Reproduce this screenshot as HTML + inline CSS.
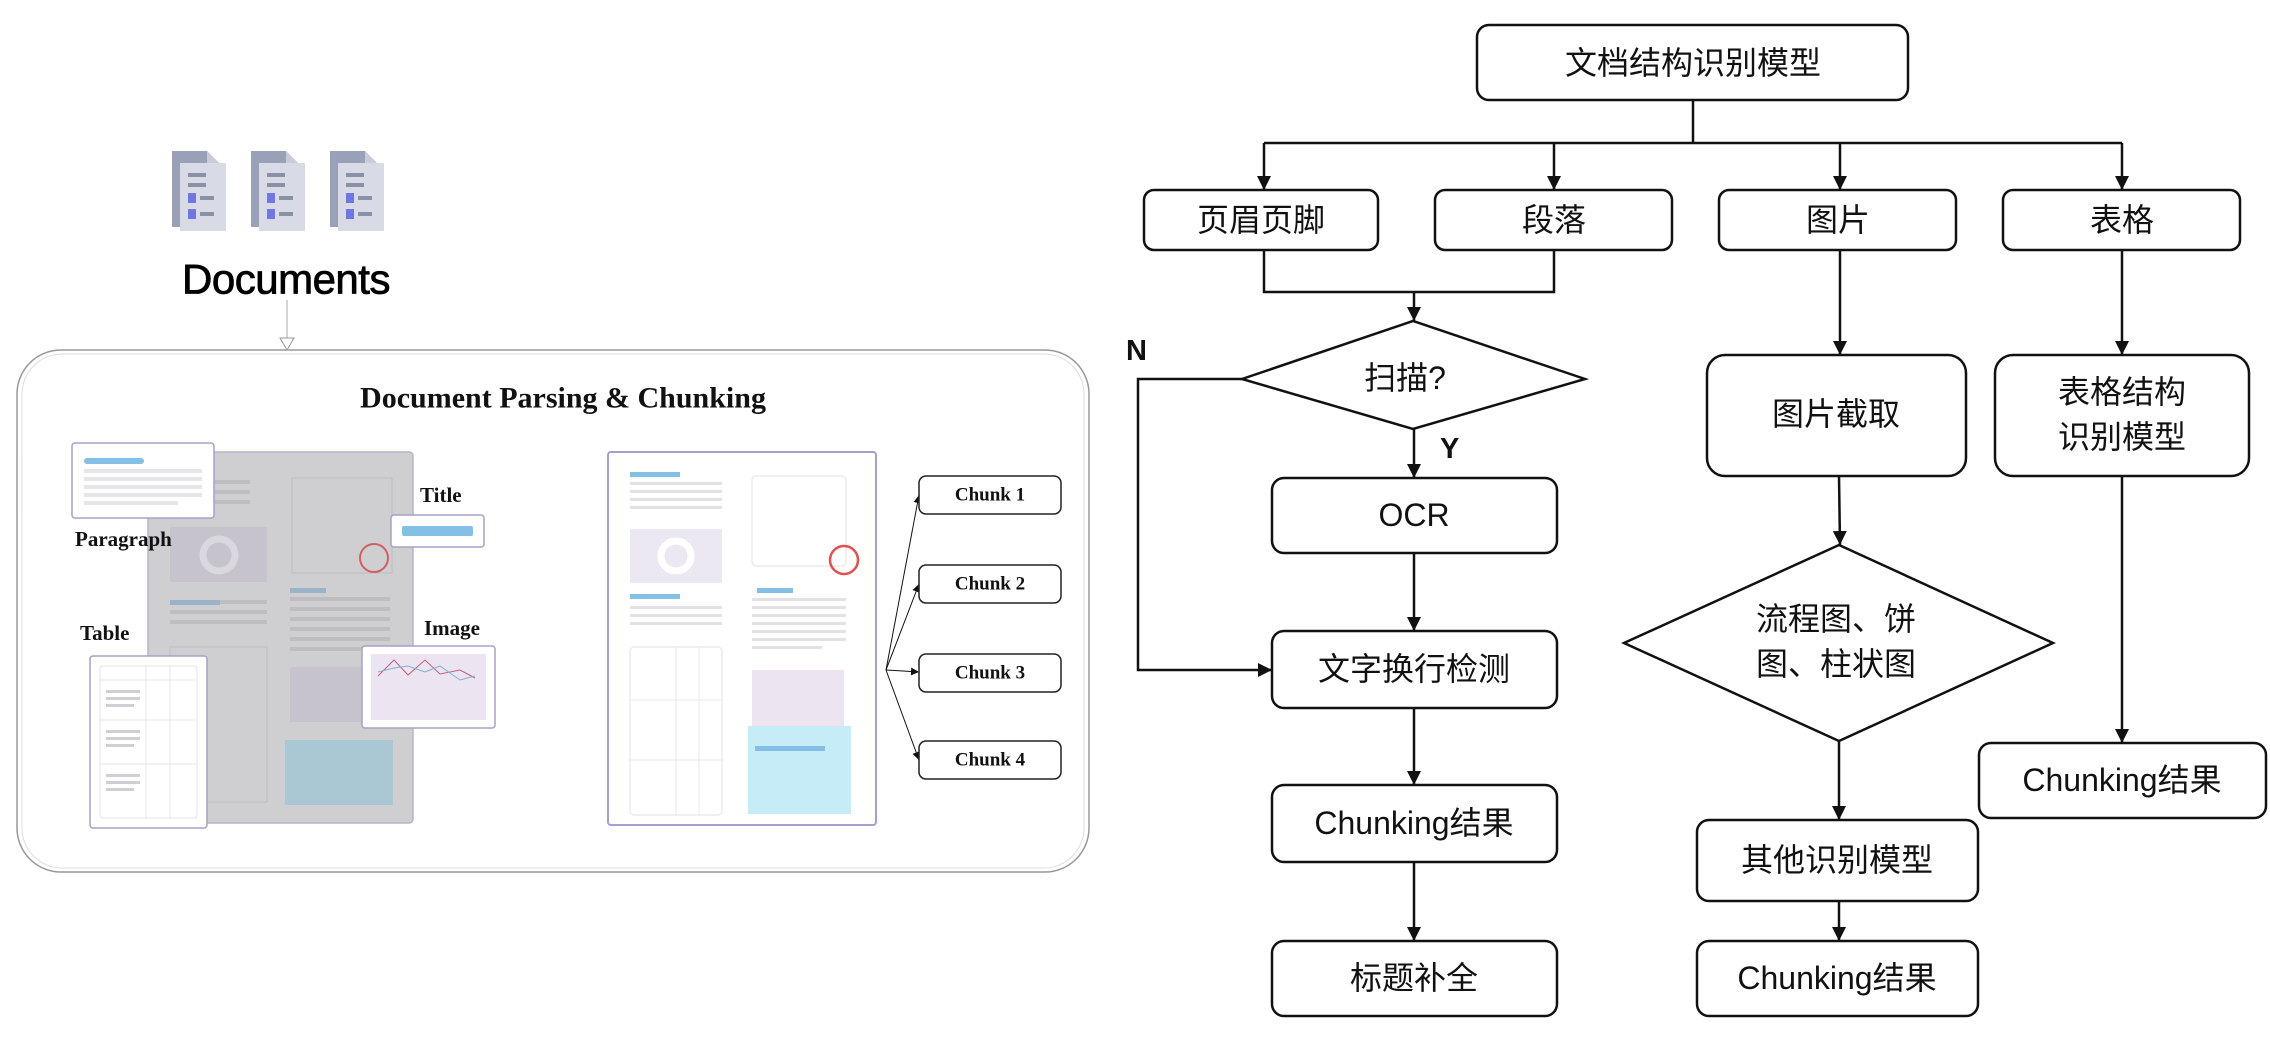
<!DOCTYPE html>
<html><head><meta charset="utf-8"><style>
html,body{margin:0;padding:0;background:#fff;}
svg{display:block;}
.cn{font-family:"Liberation Sans","Noto Sans CJK SC",sans-serif;font-size:32px;fill:#111;text-anchor:middle;dominant-baseline:central;}
.sr{font-family:"Liberation Serif",serif;font-weight:bold;fill:#111;}
</style></head><body>
<svg width="2270" height="1042" viewBox="0 0 2270 1042" xmlns="http://www.w3.org/2000/svg">
<defs>
<marker id="ar" viewBox="0 0 10 10" refX="10" refY="5" markerWidth="8" markerHeight="8" markerUnits="userSpaceOnUse" orient="auto"><path d="M0,0 L10,5 L0,10 z" fill="#111"/></marker>
<marker id="ar2" viewBox="0 0 10 10" refX="10" refY="5" markerWidth="14" markerHeight="14" markerUnits="userSpaceOnUse" orient="auto"><path d="M0,0 L10,5 L0,10 z" fill="#111"/></marker>
<g id="doc"><path d="M0,0 h35 l14,14 v62 h-49z" fill="#9aa0b8"/><path d="M35,0 v14 h14z" fill="#c9ccd8"/><rect x="8" y="12" width="46" height="68" fill="#d8dbe6"/><rect x="16" y="22" width="18" height="4" fill="#8a90a8"/><rect x="16" y="32" width="18" height="4" fill="#8a90a8"/><rect x="16" y="42" width="8" height="10" fill="#6f78e0"/><rect x="28" y="45" width="14" height="4" fill="#8a90a8"/><rect x="16" y="58" width="8" height="10" fill="#6f78e0"/><rect x="28" y="61" width="14" height="4" fill="#8a90a8"/></g>
</defs>

<!-- Left panel -->
<use href="#doc" x="172" y="151"/><use href="#doc" x="251" y="151"/><use href="#doc" x="330" y="151"/>
<text x="286" y="279" font-family="Liberation Sans,sans-serif" font-size="42" fill="#000" stroke="#000" stroke-width="0.8" text-anchor="middle" dominant-baseline="central" letter-spacing="-0.5">Documents</text>
<line x1="287" y1="300" x2="287" y2="338" stroke="#aaa" stroke-width="1"/>
<path d="M280,338 L294,338 L287,350 z" fill="#fff" stroke="#999" stroke-width="1"/>
<rect x="17" y="350" width="1072" height="522" rx="44" fill="#fff" stroke="#999" stroke-width="1.5"/>
<rect x="22" y="354" width="1062" height="514" rx="40" fill="none" stroke="#ddd" stroke-width="1"/>
<text x="563" y="398" class="sr" font-size="30" text-anchor="middle" dominant-baseline="central">Document Parsing &amp; Chunking</text>

<!-- gray doc -->
<rect x="148" y="452" width="265" height="371" rx="4" fill="#cfcfd2" stroke="#b9b3cc" stroke-width="1.5"/>
<g fill="#bdbdc2">
<rect x="170" y="480" width="80" height="4"/><rect x="170" y="490" width="80" height="4"/><rect x="170" y="500" width="80" height="4"/>
<rect x="292" y="478" width="100" height="95" fill="none" stroke="#bdbdc2"/>
<rect x="170" y="527" width="97" height="55" fill="#c6c3cc"/>
<rect x="170" y="600" width="97" height="4"/><rect x="170" y="610" width="97" height="4"/><rect x="170" y="620" width="97" height="4"/>
<rect x="290" y="597" width="100" height="4"/><rect x="290" y="607" width="100" height="4"/><rect x="290" y="617" width="100" height="4"/><rect x="290" y="627" width="100" height="4"/><rect x="290" y="637" width="100" height="4"/><rect x="290" y="647" width="100" height="4"/>
<rect x="290" y="667" width="100" height="55" fill="#c6c3cc"/>
<rect x="170" y="647" width="97" height="155" fill="none" stroke="#bdbdc2"/>
</g>
<rect x="170" y="600" width="50" height="5" fill="#9ab3c8"/><rect x="290" y="588" width="36" height="5" fill="#9ab3c8"/>
<rect x="285" y="740" width="108" height="65" fill="#a9c8d4"/>
<circle cx="374" cy="558" r="14" fill="none" stroke="#d06060" stroke-width="2"/>
<circle cx="219" cy="555" r="16" fill="none" stroke="#d8d8de" stroke-width="7"/>
<!-- paragraph card -->
<rect x="72" y="443" width="142" height="75" rx="3" fill="#fff" stroke="#a8a0c8" stroke-width="1.5"/>
<rect x="84" y="458" width="60" height="6" rx="3" fill="#84bfe6"/>
<g fill="#e6e6e8"><rect x="84" y="469" width="118" height="4"/><rect x="84" y="477" width="118" height="4"/><rect x="84" y="485" width="118" height="4"/><rect x="84" y="493" width="118" height="4"/><rect x="84" y="501" width="94" height="4"/></g>
<text x="75" y="539" class="sr" font-size="21" dominant-baseline="central">Paragraph</text>
<text x="420" y="495" class="sr" font-size="21" dominant-baseline="central">Title</text>
<rect x="391" y="515" width="93" height="32" rx="3" fill="#fff" stroke="#a8a0c8" stroke-width="1.5"/>
<rect x="402" y="526" width="71" height="10" rx="2" fill="#84bfe6"/>
<text x="80" y="633" class="sr" font-size="21" dominant-baseline="central">Table</text>
<rect x="90" y="656" width="117" height="172" rx="3" fill="#fff" stroke="#a8a0c8" stroke-width="1.5"/>
<rect x="100" y="666" width="97" height="152" rx="3" fill="none" stroke="#e4e4e8"/>
<g stroke="#e4e4e8"><line x1="146" y1="666" x2="146" y2="818"/><line x1="170" y1="666" x2="170" y2="818"/><line x1="100" y1="680" x2="197" y2="680"/><line x1="100" y1="720" x2="197" y2="720"/><line x1="100" y1="764" x2="197" y2="764"/></g>
<g fill="#cfcfd4"><rect x="106" y="690" width="34" height="3"/><rect x="106" y="697" width="34" height="3"/><rect x="106" y="704" width="28" height="3"/><rect x="106" y="730" width="34" height="3"/><rect x="106" y="737" width="34" height="3"/><rect x="106" y="744" width="28" height="3"/><rect x="106" y="774" width="34" height="3"/><rect x="106" y="781" width="34" height="3"/><rect x="106" y="788" width="28" height="3"/></g>
<text x="424" y="628" class="sr" font-size="21" dominant-baseline="central">Image</text>
<rect x="362" y="646" width="133" height="82" rx="3" fill="#fff" stroke="#a8a0c8" stroke-width="1.5"/>
<rect x="371" y="654" width="115" height="66" fill="#ece4f0"/>
<polyline points="378,676 394,660 408,675 425,660 440,674 460,670 475,678" fill="none" stroke="#c06080" stroke-width="1"/>
<polyline points="378,672 394,668 408,666 425,672 440,666 460,680 475,676" fill="none" stroke="#80b0d8" stroke-width="1"/>

<!-- right doc -->
<rect x="608" y="452" width="268" height="373" rx="3" fill="#fff" stroke="#a79ed0" stroke-width="2"/>
<rect x="630" y="472" width="50" height="5" fill="#84bfe6"/><rect x="630" y="594" width="50" height="5" fill="#84bfe6"/><rect x="757" y="588" width="36" height="5" fill="#84bfe6"/>
<g fill="#e2e2e6">
<rect x="630" y="482" width="92" height="3"/><rect x="630" y="490" width="92" height="3"/><rect x="630" y="498" width="92" height="3"/><rect x="630" y="506" width="92" height="3"/>
<rect x="630" y="606" width="92" height="3"/><rect x="630" y="614" width="92" height="3"/><rect x="630" y="622" width="92" height="3"/>
<rect x="752" y="598" width="94" height="3"/><rect x="752" y="606" width="94" height="3"/><rect x="752" y="614" width="94" height="3"/><rect x="752" y="622" width="94" height="3"/><rect x="752" y="630" width="94" height="3"/><rect x="752" y="638" width="94" height="3"/><rect x="752" y="646" width="70" height="3"/>
</g>
<rect x="752" y="476" width="94" height="90" rx="4" fill="none" stroke="#e2e2e6"/>
<rect x="630" y="529" width="92" height="54" fill="#ece8f2"/>
<circle cx="676" cy="556" r="15" fill="none" stroke="#fff" stroke-width="7"/>
<circle cx="844" cy="560" r="14" fill="none" stroke="#e05050" stroke-width="2.5"/>
<rect x="630" y="647" width="92" height="168" rx="4" fill="none" stroke="#e2e2e6"/>
<g stroke="#e8e8ec"><line x1="676" y1="647" x2="676" y2="815"/><line x1="699" y1="647" x2="699" y2="815"/><line x1="630" y1="700" x2="722" y2="700"/><line x1="630" y1="760" x2="722" y2="760"/></g>
<rect x="752" y="670" width="92" height="72" fill="#ece4f0"/>
<rect x="748" y="740" width="103" height="88" fill="#c6ecf8" transform="translate(0,-14)"/>
<rect x="755" y="746" width="70" height="5" fill="#84bfe6"/>

<!-- chunks -->
<g stroke="#111" stroke-width="1" fill="none">
<line x1="886" y1="670" x2="919" y2="495" marker-end="url(#ar)"/>
<line x1="886" y1="670" x2="919" y2="584" marker-end="url(#ar)"/>
<line x1="886" y1="670" x2="919" y2="672" marker-end="url(#ar)"/>
<line x1="886" y1="670" x2="919" y2="760" marker-end="url(#ar)"/>
</g>
<g fill="#fff" stroke="#222" stroke-width="1.5">
<rect x="919" y="476" width="142" height="38" rx="7"/><rect x="919" y="565" width="142" height="38" rx="7"/><rect x="919" y="654" width="142" height="38" rx="7"/><rect x="919" y="741" width="142" height="38" rx="7"/>
</g>
<g class="sr" font-size="19" text-anchor="middle" dominant-baseline="central">
<text x="990" y="495">Chunk 1</text><text x="990" y="584">Chunk 2</text><text x="990" y="673">Chunk 3</text><text x="990" y="760">Chunk 4</text>
</g>

<!-- Flowchart -->
<g fill="#fff" stroke="#111" stroke-width="2.5">
<rect x="1477" y="25" width="431" height="75" rx="12"/>
<rect x="1144" y="190" width="234" height="60" rx="10"/>
<rect x="1435" y="190" width="237" height="60" rx="10"/>
<rect x="1719" y="190" width="237" height="60" rx="10"/>
<rect x="2003" y="190" width="237" height="60" rx="10"/>
<polygon points="1242,379 1413,321 1585,379 1413,429"/>
<rect x="1272" y="478" width="285" height="75" rx="12"/>
<rect x="1272" y="631" width="285" height="77" rx="12"/>
<rect x="1272" y="785" width="285" height="77" rx="12"/>
<rect x="1272" y="941" width="285" height="75" rx="12"/>
<rect x="1707" y="355" width="259" height="121" rx="18"/>
<polygon points="1624,643 1839,545 2053,643 1839,741"/>
<rect x="1697" y="820" width="281" height="81" rx="12"/>
<rect x="1697" y="941" width="281" height="75" rx="12"/>
<rect x="1995" y="355" width="254" height="121" rx="18"/>
<rect x="1979" y="743" width="287" height="75" rx="12"/>
</g>
<g stroke="#111" stroke-width="2.5" fill="none">
<line x1="1693" y1="100" x2="1693" y2="143"/>
<line x1="1264" y1="143" x2="2122" y2="143"/>
<line x1="1264" y1="143" x2="1264" y2="190" marker-end="url(#ar2)"/>
<line x1="1554" y1="143" x2="1554" y2="190" marker-end="url(#ar2)"/>
<line x1="1840" y1="143" x2="1840" y2="190" marker-end="url(#ar2)"/>
<line x1="2122" y1="143" x2="2122" y2="190" marker-end="url(#ar2)"/>
<polyline points="1264,250 1264,292 1554,292 1554,250"/>
<line x1="1414" y1="292" x2="1414" y2="321" marker-end="url(#ar2)"/>
<line x1="1414" y1="429" x2="1414" y2="478" marker-end="url(#ar2)"/>
<polyline points="1242,379 1138,379 1138,670 1272,670" marker-end="url(#ar2)"/>
<line x1="1414" y1="553" x2="1414" y2="631" marker-end="url(#ar2)"/>
<line x1="1414" y1="708" x2="1414" y2="785" marker-end="url(#ar2)"/>
<line x1="1414" y1="862" x2="1414" y2="941" marker-end="url(#ar2)"/>
<line x1="1840" y1="250" x2="1840" y2="355" marker-end="url(#ar2)"/>
<line x1="1839" y1="476" x2="1840" y2="545" marker-end="url(#ar2)"/>
<line x1="1839" y1="741" x2="1839" y2="820" marker-end="url(#ar2)"/>
<line x1="1839" y1="901" x2="1839" y2="941" marker-end="url(#ar2)"/>
<line x1="2122" y1="250" x2="2122" y2="355" marker-end="url(#ar2)"/>
<line x1="2122" y1="476" x2="2122" y2="743" marker-end="url(#ar2)"/>
</g>
<g class="cn">
<text x="1693" y="63">文档结构识别模型</text>
<text x="1261" y="220">页眉页脚</text>
<text x="1554" y="220">段落</text>
<text x="1838" y="220">图片</text>
<text x="2122" y="220">表格</text>
<text x="1405" y="378">扫描?</text>
<text x="1414" y="515">OCR</text>
<text x="1414" y="669">文字换行检测</text>
<text x="1414" y="823">Chunking结果</text>
<text x="1414" y="978">标题补全</text>
<text x="1836" y="414">图片截取</text>
<text x="1836" y="619">流程图、饼</text>
<text x="1836" y="664">图、柱状图</text>
<text x="1837" y="860">其他识别模型</text>
<text x="1837" y="978">Chunking结果</text>
<text x="2122" y="392">表格结构</text>
<text x="2122" y="437">识别模型</text>
<text x="2122" y="780">Chunking结果</text>
</g>
<text x="1126" y="351" font-family="Liberation Sans,sans-serif" font-weight="bold" font-size="29" fill="#111" dominant-baseline="central">N</text>
<text x="1440" y="449" font-family="Liberation Sans,sans-serif" font-weight="bold" font-size="29" fill="#111" dominant-baseline="central">Y</text>
</svg>
</body></html>
